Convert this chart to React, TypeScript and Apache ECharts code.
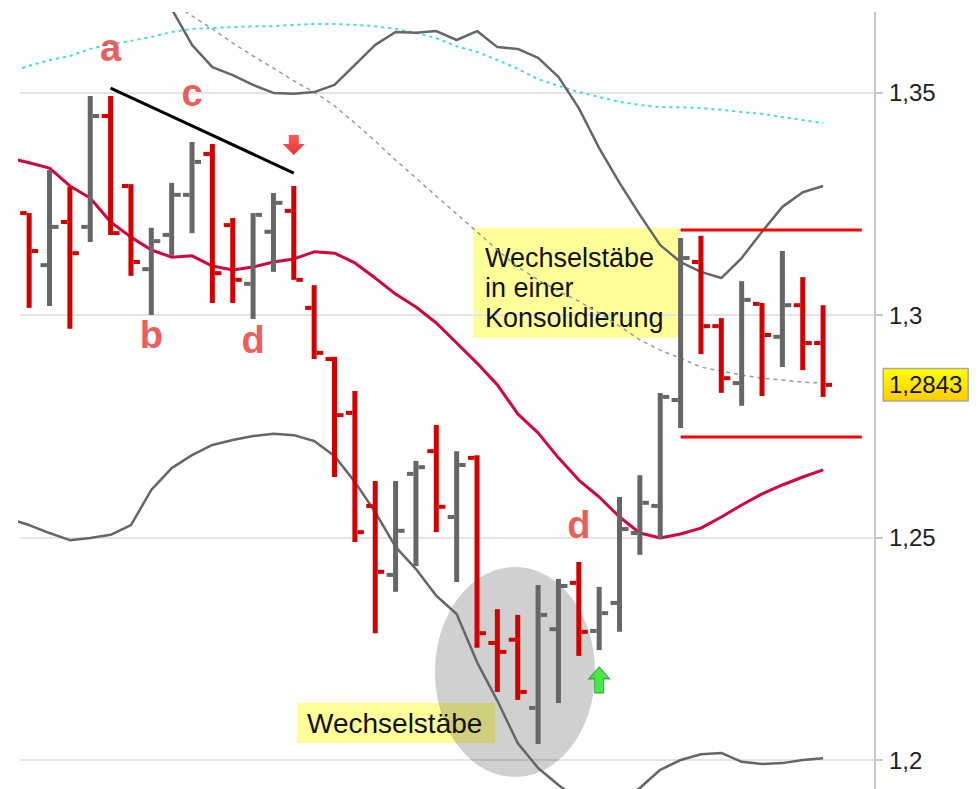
import React, { useEffect, useRef } from "react";
import * as echarts from "echarts";

// ---- bar data (OHLC), one entry per trading bar ----
const barIndex = [0, 1, 2, 3, 4, 5, 6, 7, 8, 9, 10, 11, 12, 13, 14, 15, 16, 17, 18, 19, 20, 21, 22, 23, 24, 25, 26, 27, 28, 29, 30, 31, 32, 33, 34, 35, 36, 37, 38, 39];
const opens = [1.3229, 1.3112, 1.3209, 1.3198, 1.3447, 1.3290, 1.3103, 1.3180, 1.3270, 1.3362, 1.3202, 1.3070, 1.3187, 1.3234, 1.3016, 1.2901, 1.2780, 1.2571, 1.2416, 1.2643, 1.2694, 1.2546, 1.2679, 1.2263, 1.2270, 1.2117, 1.2294, 1.2398, 1.2290, 1.2353, 1.2510, 1.2571, 1.2809, 1.3119, 1.2975, 1.2847, 1.3025, 1.2951, 1.3022, 1.2937];
const highs = [1.3229, 1.3326, 1.3288, 1.3492, 1.3492, 1.3294, 1.3196, 1.3297, 1.3389, 1.3384, 1.3218, 1.3229, 1.3274, 1.3290, 1.3067, 1.2906, 1.2829, 1.2627, 1.2627, 1.2672, 1.2753, 1.2694, 1.2685, 1.2339, 1.2326, 1.2393, 1.2407, 1.2445, 1.2389, 1.2591, 1.2640, 1.2825, 1.3173, 1.3178, 1.2993, 1.3076, 1.3027, 1.3144, 1.3085, 1.3022];
const lows = [1.3016, 1.3020, 1.2969, 1.3164, 1.3180, 1.3088, 1.3000, 1.3133, 1.3184, 1.3027, 1.3027, 1.2991, 1.3097, 1.3079, 1.2901, 1.2636, 1.2490, 1.2285, 1.2378, 1.2436, 1.2512, 1.2400, 1.2252, 1.2153, 1.2135, 1.2036, 1.2128, 1.2234, 1.2247, 1.2288, 1.2461, 1.2497, 1.2746, 1.2912, 1.2825, 1.2796, 1.2818, 1.2883, 1.2876, 1.2816];
const closes = [1.3144, 1.3198, 1.3139, 1.3447, 1.3184, 1.3119, 1.3166, 1.3270, 1.3344, 1.3094, 1.3079, 1.3225, 1.3252, 1.3079, 1.2915, 1.2775, 1.2512, 1.2423, 1.2515, 1.2658, 1.2569, 1.2663, 1.2285, 1.2243, 1.2153, 1.2326, 1.2391, 1.2288, 1.2330, 1.2519, 1.2578, 1.2816, 1.3128, 1.2975, 1.2858, 1.3034, 1.2955, 1.3022, 1.2937, 1.2843];

// ---- indicator lines, index -1 .. 39 ----
const lineIndex = [-1, 0, 1, 2, 3, 4, 5, 6, 7, 8, 9, 10, 11, 12, 13, 14, 15, 16, 17, 18, 19, 20, 21, 22, 23, 24, 25, 26, 27, 28, 29, 30, 31, 32, 33, 34, 35, 36, 37, 38, 39];
const movingAvg = [1.3353, 1.3342, 1.3330, 1.3290, 1.3263, 1.3209, 1.3175, 1.3146, 1.3130, 1.3133, 1.3110, 1.3101, 1.3108, 1.3119, 1.3126, 1.3142, 1.3139, 1.3117, 1.3083, 1.3047, 1.3018, 1.2982, 1.2937, 1.2892, 1.2843, 1.2778, 1.2735, 1.2679, 1.2629, 1.2591, 1.2546, 1.2510, 1.2499, 1.2508, 1.2521, 1.2546, 1.2573, 1.2598, 1.2618, 1.2636, 1.2652];
const upperBand = [null, null, null, null, null, null, null, 1.3798, 1.3688, 1.3607, 1.3557, 1.3539, 1.3517, 1.3499, 1.3497, 1.3501, 1.3517, 1.3562, 1.3607, 1.3636, 1.3634, 1.3638, 1.3618, 1.3638, 1.3602, 1.3598, 1.3578, 1.3535, 1.3465, 1.3375, 1.3297, 1.3225, 1.3157, 1.3119, 1.3097, 1.3083, 1.3128, 1.3187, 1.3243, 1.3276, 1.3290];
const lowerBand = [1.2542, 1.2528, 1.2510, 1.2494, 1.2499, 1.2506, 1.2528, 1.2607, 1.2656, 1.2685, 1.2708, 1.2719, 1.2728, 1.2733, 1.2730, 1.2717, 1.2683, 1.2625, 1.2557, 1.2479, 1.2429, 1.2369, 1.2328, 1.2220, 1.2133, 1.2038, 1.1982, 1.1944, 1.1910, 1.1892, 1.1910, 1.1937, 1.1978, 1.2000, 1.2013, 1.2016, 1.1996, 1.1991, 1.1993, 1.2000, 1.2004];
const slowAvg = [null, null, null, null, null, null, null, null, 1.3703, 1.3672, 1.3643, 1.3611, 1.3582, 1.3555, 1.3526, 1.3501, 1.3470, 1.3431, 1.3391, 1.3348, 1.3308, 1.3267, 1.3227, 1.3187, 1.3146, 1.3108, 1.3079, 1.3054, 1.3031, 1.3004, 1.2975, 1.2944, 1.2921, 1.2903, 1.2883, 1.2874, 1.2865, 1.2858, 1.2854, 1.2849, 1.2847];
const cyanAvg = [1.3546, 1.3560, 1.3573, 1.3582, 1.3598, 1.3609, 1.3616, 1.3625, 1.3636, 1.3643, 1.3645, 1.3647, 1.3649, 1.3649, 1.3652, 1.3654, 1.3654, 1.3652, 1.3649, 1.3643, 1.3634, 1.3622, 1.3604, 1.3591, 1.3573, 1.3553, 1.3530, 1.3515, 1.3501, 1.3490, 1.3479, 1.3472, 1.3467, 1.3467, 1.3465, 1.3461, 1.3456, 1.3452, 1.3445, 1.3438, 1.3431];

// ---- drawn lines / annotations ----
const trendX = [4, 13];
const trendY = [1.3510, 1.3319];
const rangeX = [32, 40.9];
const rangeTop = 1.3191;
const rangeBottom = 1.2726;
const letterText = ["a", "c", "b", "d", "d"];
const letterX = [4, 8, 6, 11, 27];
const letterY = [1.3600, 1.3499, 1.2955, 1.2944, 1.2527];
const yTicks = [1.2, 1.25, 1.3, 1.35];

const RED = "#d20000";
const GREY = "#666666";
const FONT = "Liberation Sans";
const OFF = 140; // container starts OFF px above the page top

const fmt = (v: number) => String(Number(v.toFixed(4))).replace(".", ",");

export default function App() {
  const ref = useRef<HTMLDivElement>(null);
  useEffect(() => {
    if (!ref.current) return;
    const chart = echarts.init(ref.current, null, { renderer: "svg" });
    const ohlc = barIndex.map((i, k) => [i, opens[k], highs[k], lows[k], closes[k]]);
    const toLine = (arr: (number | null)[]) => lineIndex.map((i, k) => [i, arr[k]]);
    const lineBase = { type: "line", showSymbol: false, symbol: "none", clip: true, silent: true };

    const option: any = {
      animation: false,
      backgroundColor: "#ffffff",
      grid: { left: 20, width: 855, top: OFF - 130, height: 1112.5, outerBoundsMode: "none" },
      xAxis: { type: "value", min: -0.45, max: 41.55, show: false },
      yAxis: [
        {
          type: "value",
          position: "right",
          min: 1.15,
          max: 1.4,
          interval: 0.05,
          axisLine: { show: true, onZero: false, lineStyle: { color: "#c8c8c8", width: 2 } },
          axisTick: { show: true, length: 8, lineStyle: { color: "#c8c8c8", width: 2 } },
          splitLine: { show: true, lineStyle: { color: "#e4e4e4", width: 2 } },
          axisLabel: {
            margin: 14,
            color: "#222",
            fontSize: 24,
            fontFamily: FONT,
            formatter: (v: number) => (yTicks.some((t) => Math.abs(t - v) < 1e-6) ? fmt(v) : ""),
          },
        },
        {
          type: "value",
          position: "right",
          min: 1.15,
          max: 1.4,
          axisLine: { show: false, onZero: false },
          axisTick: { show: false },
          splitLine: { show: false },
          axisLabel: {
            customValues: [closes[closes.length - 1]],
            margin: 9,
            color: "#111",
            fontSize: 24,
            fontFamily: FONT,
            padding: [4, 5, 3, 5],
            backgroundColor: new echarts.graphic.LinearGradient(0, 0, 0, 1, [
              { offset: 0, color: "#ffff00" },
              { offset: 1, color: "#ffcc00" },
            ]),
            borderColor: "#a8a8a8",
            borderWidth: 1.5,
            formatter: (v: number) => fmt(v),
          },
        },
      ],
      graphic: [
        { type: "rect", z: 0, shape: { x: 473, y: OFF + 228, width: 207, height: 110 }, style: { fill: "#ffff99" } },
        { type: "rect", z: 0, shape: { x: 297, y: OFF + 703, width: 198, height: 40 }, style: { fill: "#ffff99" } },
        { type: "ellipse", z: 1, shape: { cx: 515, cy: OFF + 672, rx: 80, ry: 105 }, style: { fill: "rgba(0,0,0,0.185)" } },
        {
          type: "text",
          z: 1,
          style: {
            x: 485, y: OFF + 243, text: "Wechselstäbe\nin einer\nKonsolidierung",
            font: `27px "${FONT}"`, lineHeight: 30, fill: "#111", verticalAlign: "top", textVerticalAlign: "top",
          },
        },
        {
          type: "text",
          z: 1,
          style: {
            x: 307, y: OFF + 723, text: "Wechselstäbe",
            font: `28px "${FONT}"`, fill: "#111", verticalAlign: "middle", textVerticalAlign: "middle",
          },
        },
        { type: "rect", z: 20, shape: { x: 0, y: 0, width: 980, height: OFF + 12 }, style: { fill: "#ffffff" } },
      ],
      series: [
        { ...lineBase, name: "cyan", z: 3, data: toLine(cyanAvg), lineStyle: { color: "#3ee0cc", width: 2, type: [3, 4] } },
        { ...lineBase, name: "slow", z: 3, data: toLine(slowAvg), lineStyle: { color: "#9a9a9a", width: 1.5, type: [4, 4] } },
        { ...lineBase, name: "upper", z: 3, data: toLine(upperBand), lineStyle: { color: GREY, width: 2.5 } },
        { ...lineBase, name: "lower", z: 3, data: toLine(lowerBand), lineStyle: { color: GREY, width: 2.5 } },
        { ...lineBase, name: "ma", z: 3, data: toLine(movingAvg), lineStyle: { color: "#d1063f", width: 3 } },
        {
          type: "custom",
          name: "ohlc",
          z: 5,
          clip: true,
          data: ohlc,
          encode: { x: 0, y: [1, 2, 3, 4] },
          renderItem: (_p: any, api: any) => {
            const i = api.value(0);
            const o = api.value(1), h = api.value(2), l = api.value(3), c = api.value(4);
            const [x, yo] = api.coord([i, o]);
            const yh = api.coord([i, h])[1];
            const yl = api.coord([i, l])[1];
            const yc = api.coord([i, c])[1];
            const color = c < o ? RED : GREY;
            return {
              type: "group",
              children: [
                { type: "rect", shape: { x: x - 2.5, y: yh, width: 5, height: yl - yh }, style: { fill: color } },
                { type: "rect", shape: { x: x - 9, y: yo - 2, width: 6.5, height: 4 }, style: { fill: color } },
                { type: "rect", shape: { x: x + 2.5, y: yc - 2, width: 6.5, height: 4 }, style: { fill: color } },
              ],
            };
          },
        },
        { ...lineBase, name: "trend", z: 6, data: trendX.map((x, k) => [x, trendY[k]]), lineStyle: { color: "#000", width: 3 } },
        { ...lineBase, name: "rangeTop", z: 6, data: rangeX.map((x) => [x, rangeTop]), lineStyle: { color: "#ff0000", width: 3 } },
        { ...lineBase, name: "rangeBottom", z: 6, data: rangeX.map((x) => [x, rangeBottom]), lineStyle: { color: "#ff0000", width: 3 } },
        {
          type: "scatter",
          name: "letters",
          z: 7,
          symbolSize: 0,
          silent: true,
          data: letterText.map((t, k) => ({ name: t, value: [letterX[k], letterY[k]] })),
          label: {
            show: true,
            position: "inside",
            formatter: "{b}",
            color: "#e63232",
            fontSize: 38,
            fontWeight: "bold",
            fontFamily: FONT,
          },
        },
        {
          type: "scatter",
          name: "downArrow",
          z: 7,
          silent: true,
          symbol: "path://M6,0 L16,0 L16,9 L22,9 L11,20 L0,9 L6,9 Z",
          symbolSize: [22, 20],
          data: [[13, 1.3382]],
          itemStyle: {
            color: new echarts.graphic.LinearGradient(0, 0, 0, 1, [
              { offset: 0, color: "#ff3030" },
              { offset: 1, color: "#e00000" },
            ]),
          },
        },
        {
          type: "scatter",
          name: "upArrow",
          z: 7,
          silent: true,
          symbol: "path://M10.5,0 L21,12 L15,12 L15,26 L6,26 L6,12 L0,12 Z",
          symbolSize: [21, 26],
          data: [[28, 1.2180]],
          itemStyle: { color: "#1ee01e", borderColor: "#139a13", borderWidth: 1 },
        },
      ],
    };
    chart.setOption(option);
    return () => chart.dispose();
  }, []);
  return <div ref={ref} style={{ position: "fixed", left: 0, top: -OFF, width: 980, height: 789 + OFF + 220 }} />;
}
